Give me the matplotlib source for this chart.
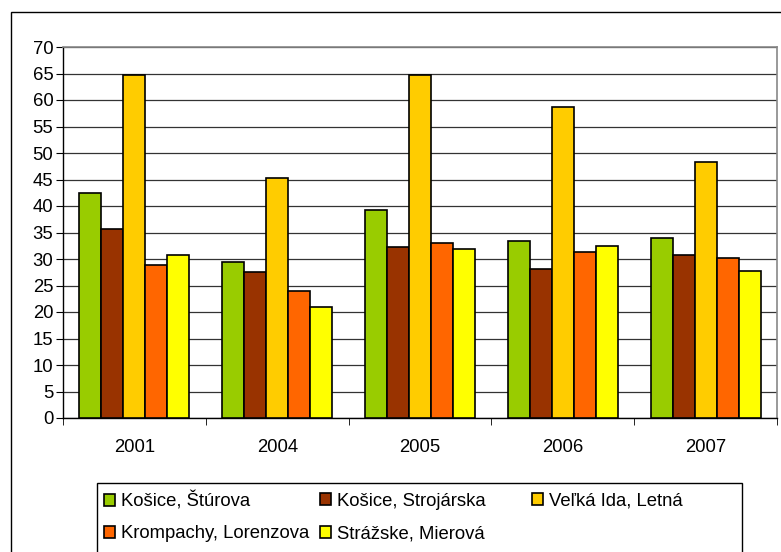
import numpy as np
import matplotlib.pyplot as plt
from matplotlib.patches import Rectangle

plt.rcParams['font.family'] = ['Liberation Sans', 'DejaVu Sans']

years = ['2001', '2004', '2005', '2006', '2007']
series_names = ['Košice, Štúrova', 'Košice, Strojárska', 'Veľká Ida, Letná',
                'Krompachy, Lorenzova', 'Strážske, Mierová']
kosice_sturova = [42.5, 29.5, 39.2, 33.4, 34.0]
kosice_strojarska = [35.7, 27.5, 32.3, 28.2, 30.8]
velka_ida = [64.8, 45.3, 64.8, 58.7, 48.3]
krompachy = [28.9, 24.0, 33.1, 31.4, 30.1]
strazske = [30.8, 21.0, 31.8, 32.4, 27.8]
colors = ['#99CC00', '#993300', '#FFCC00', '#FF6600', '#FFFF00']

values = [kosice_sturova, kosice_strojarska, velka_ida, krompachy, strazske]

fig = plt.figure(figsize=(7.81, 5.52), dpi=100)
ax = fig.add_axes([63 / 781, 1 - 418 / 552, 714 / 781, 371 / 552])

x = np.arange(len(years))
bw = 0.154
for i, (name, vals) in enumerate(zip(series_names, values)):
    ax.bar(x + (i - 2) * bw, vals, bw, color=colors[i], edgecolor='black',
           linewidth=1.2, label=name, zorder=3)

ax.set_xlim(-0.5, len(years) - 0.5)
ax.set_ylim(0, 70)
ax.set_yticks(range(0, 71, 5))
ax.yaxis.grid(True, color='#333333', linewidth=0.9, zorder=0)
ax.set_xticks(x)
ax.set_xticklabels(years)
ax.set_xticks(np.arange(-0.5, len(years), 1), minor=True)
ax.tick_params(axis='x', which='major', length=0, pad=15, labelsize=13.3)
ax.tick_params(axis='x', which='minor', length=5, direction='out', color='black')
ax.tick_params(axis='y', length=5, direction='out', labelsize=13.3, pad=2)

for s in ['top', 'right']:
    ax.spines[s].set_color('#888888')
    ax.spines[s].set_linewidth(1.2)
for s in ['left', 'bottom']:
    ax.spines[s].set_color('black')
    ax.spines[s].set_linewidth(1.0)

# outer chart border
fig.patches.append(Rectangle((11 / 781, -0.1), 1.0, 1 - 12 / 552 + 0.1,
                             transform=fig.transFigure, fill=False,
                             edgecolor='black', linewidth=1.0))
# legend box
fig.patches.append(Rectangle((97 / 781, -0.1), (742 - 97) / 781, 1 - 483 / 552 + 0.1,
                             transform=fig.transFigure, fill=False,
                             edgecolor='black', linewidth=1.0))

# legend laid out row by row in three equal columns, one entry at a time
handles, labels = ax.get_legend_handles_labels()
col_x = [104, 320, 532]
row_y = [501, 534]
for k in range(len(handles)):
    c, r = k % 3, k // 3
    fig.legend([handles[k]], [labels[k]], loc='center left',
               bbox_to_anchor=(col_x[c] / 781, 1 - row_y[r] / 552),
               frameon=False, fontsize=13.3, handlelength=0.6, handleheight=0.6,
               handletextpad=0.3, borderaxespad=0, borderpad=0)

fig.savefig('out.png', dpi=100)
